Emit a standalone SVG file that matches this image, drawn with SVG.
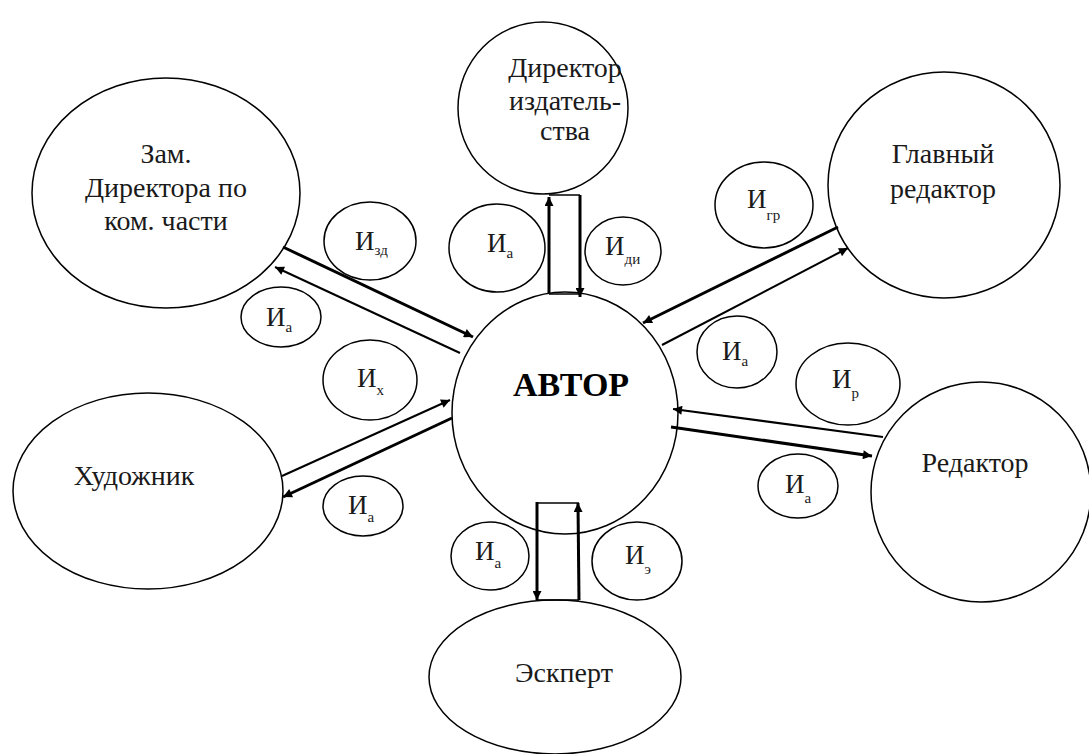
<svg xmlns="http://www.w3.org/2000/svg" width="1089" height="754" viewBox="0 0 1089 754">
<defs>
<style>
.s{fill:none;stroke:#000;stroke-width:1.5}
.t{font-family:"Liberation Serif","Times New Roman",serif;font-size:28px;fill:#1a1a1a;text-anchor:middle}
.b{font-family:"Liberation Serif","Times New Roman",serif;font-size:34px;font-weight:bold;fill:#000;text-anchor:middle}
.i{font-family:"Liberation Serif","Times New Roman",serif;font-size:27px;fill:#1a1a1a}
.sub{font-size:15px}
.th{stroke:#000;stroke-width:3;fill:none}
.tn{stroke:#000;stroke-width:2;fill:none}
.ln{stroke:#000;stroke-width:1.5;fill:none}
</style>
<marker id="ah" viewBox="0 0 10 10" refX="10" refY="5" markerWidth="13" markerHeight="9" markerUnits="userSpaceOnUse" orient="auto"><path d="M0,0 L10,5 L0,10 z" fill="#000"/></marker>
</defs>
<rect width="1089" height="754" fill="#fff"/>

<g id="connectors">
<line class="th" x1="549" y1="293" x2="549" y2="197" marker-end="url(#ah)"/>
<line class="th" x1="580" y1="195" x2="580" y2="297" marker-end="url(#ah)"/>
<line class="ln" x1="549" y1="195" x2="580" y2="195"/>
<line class="ln" x1="549" y1="294" x2="580" y2="294"/>
<line class="th" x1="537" y1="502" x2="537" y2="600" marker-end="url(#ah)"/>
<line class="th" x1="579" y1="600" x2="578" y2="503" marker-end="url(#ah)"/>
<line class="ln" x1="537" y1="503" x2="579" y2="503"/>
<line class="ln" x1="537" y1="600" x2="579" y2="600"/>
<line class="th" x1="283" y1="247" x2="473" y2="337" marker-end="url(#ah)"/>
<line class="tn" x1="460" y1="353" x2="275" y2="267" marker-end="url(#ah)"/>
<line class="th" x1="838" y1="227" x2="643" y2="323" marker-end="url(#ah)"/>
<line class="tn" x1="662" y1="345" x2="848" y2="248" marker-end="url(#ah)"/>
<line class="tn" x1="883" y1="437" x2="673" y2="409" marker-end="url(#ah)"/>
<line class="th" x1="671" y1="427" x2="872" y2="456" marker-end="url(#ah)"/>
<line class="tn" x1="282" y1="476" x2="450" y2="400" marker-end="url(#ah)"/>
<line class="th" x1="452" y1="418" x2="283" y2="497" marker-end="url(#ah)"/>
</g>

<g id="author">
<ellipse class="s" cx="565" cy="413" rx="113" ry="121"/>
<text class="b" x="571" y="396">АВТОР</text>
</g>

<g id="director">
<ellipse class="s" cx="543" cy="108" rx="85" ry="86"/>
<text class="t" x="565" y="77">Директор</text>
<text class="t" x="565" y="110">издатель-</text>
<text class="t" x="565" y="140">ства</text>
</g>

<g id="zam">
<ellipse class="s" cx="166" cy="193" rx="134" ry="115"/>
<text class="t" x="166" y="163">Зам.</text>
<text class="t" x="166" y="197">Директора по</text>
<text class="t" x="166" y="230">ком. части</text>
</g>

<g id="glavny">
<ellipse class="s" cx="944" cy="185" rx="116" ry="113"/>
<text class="t" x="943" y="163">Главный</text>
<text class="t" x="943" y="198">редактор</text>
</g>

<g id="redaktor">
<ellipse class="s" cx="981" cy="492" rx="110" ry="110"/>
<text class="t" x="975" y="472">Редактор</text>
</g>

<g id="khudozhnik">
<ellipse class="s" cx="148" cy="491" rx="135" ry="98"/>
<text class="t" x="134" y="485">Художник</text>
</g>

<g id="expert">
<ellipse class="s" cx="555" cy="677" rx="126" ry="77"/>
<text class="t" x="564" y="682">Эскперт</text>
</g>

<g id="i-zd"><ellipse class="s" cx="370" cy="241" rx="46" ry="39"/><text class="i" x="355" y="250">И<tspan class="sub" dy="5">зд</tspan></text></g>
<g id="i-a1"><ellipse class="s" cx="281" cy="317" rx="40" ry="30"/><text class="i" x="266" y="326">И<tspan class="sub" dy="6">а</tspan></text></g>
<g id="i-a2"><ellipse class="s" cx="497" cy="248" rx="48" ry="44"/><text class="i" x="487" y="252">И<tspan class="sub" dy="6">а</tspan></text></g>
<g id="i-di"><ellipse class="s" cx="623" cy="251" rx="38" ry="34"/><text class="i" x="605" y="255">И<tspan class="sub" dy="9">ди</tspan></text></g>
<g id="i-gr"><ellipse class="s" cx="764" cy="205" rx="49" ry="43"/><text class="i" x="747" y="208">И<tspan class="sub" dy="12">гр</tspan></text></g>
<g id="i-a3"><ellipse class="s" cx="737" cy="352" rx="40" ry="36"/><text class="i" x="722" y="360">И<tspan class="sub" dy="6">а</tspan></text></g>
<g id="i-r"><ellipse class="s" cx="848" cy="384" rx="52" ry="41"/><text class="i" x="832" y="388">И<tspan class="sub" dy="10">р</tspan></text></g>
<g id="i-a4"><ellipse class="s" cx="798" cy="486" rx="40" ry="32"/><text class="i" x="785" y="493">И<tspan class="sub" dy="10">а</tspan></text></g>
<g id="i-x"><ellipse class="s" cx="370" cy="380" rx="47" ry="40"/><text class="i" x="357" y="387">И<tspan class="sub" dy="8">х</tspan></text></g>
<g id="i-a5"><ellipse class="s" cx="363" cy="506" rx="40" ry="30"/><text class="i" x="348" y="514">И<tspan class="sub" dy="8">а</tspan></text></g>
<g id="i-a6"><ellipse class="s" cx="490" cy="556" rx="39" ry="34"/><text class="i" x="475" y="560">И<tspan class="sub" dy="8">а</tspan></text></g>
<g id="i-e"><ellipse class="s" cx="637" cy="561" rx="45" ry="39"/><text class="i" x="625" y="564">И<tspan class="sub" dy="10">э</tspan></text></g>
</svg>
